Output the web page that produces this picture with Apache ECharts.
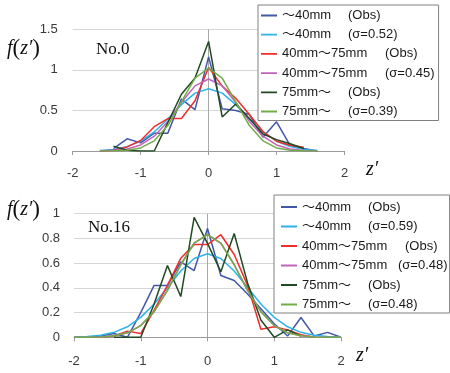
<!DOCTYPE html>
<html><head><meta charset="utf-8">
<script src="https://cdn.jsdelivr.net/npm/echarts@6/dist/echarts.min.js"></script>
<style>html,body{margin:0;padding:0;background:#fff}#c{width:450px;height:373px}</style>
</head><body><div id="c"></div>
<script>
// ---- data ----
const xTop = [-1.6,-1.4,-1.2,-1.0,-0.8,-0.6,-0.4,-0.2,0,0.2,0.4,0.6,0.8,1.0,1.2,1.4,1.6];
const topObs40   = [null,0.03,0.15,0.10,0.22,0.22,0.64,0.51,1.16,0.52,0.50,0.45,0.17,0.36,0.07,0.03,0.0];
const topFit40   = [0.007,0.020,0.054,0.121,0.235,0.394,0.571,0.713,0.767,0.713,0.571,0.394,0.235,0.121,0.054,0.020,0.007];
const topObs4075 = [0.0,0.01,0.05,0.13,0.30,0.40,0.40,0.62,1.03,0.80,0.65,0.45,0.24,0.12,0.07,0.045,null];
const topFit4075 = [0.002,0.007,0.025,0.075,0.183,0.365,0.597,0.803,0.887,0.803,0.597,0.365,0.183,0.075,0.025,0.007,0.002];
const topObs75   = [null,0.06,0.01,0.0,0.0,0.35,0.70,0.90,1.35,0.42,0.58,0.40,0.21,0.14,0.09,0.03,null];
const topFit75   = [0.0,0.002,0.009,0.038,0.125,0.313,0.605,0.897,1.023,0.897,0.605,0.313,0.125,0.038,0.009,0.002,0.0];

const xBot = [-2.0,-1.8,-1.6,-1.4,-1.2,-1.0,-0.8,-0.6,-0.4,-0.2,0,0.2,0.4,0.6,0.8,1.0,1.2,1.4,1.6,1.8,2.0];
const botObs40   = [0,0,0.01,0.03,0.0,0.20,0.42,0.42,0.61,0.54,0.88,0.50,0.46,0.35,0.23,0.11,0.01,0.16,0.01,0.04,0.0];
const botFit40   = [0.002,0.006,0.017,0.040,0.085,0.161,0.270,0.403,0.537,0.638,0.676,0.638,0.537,0.403,0.270,0.161,0.085,0.040,0.017,0.006,0.002];
const botObs4075 = [null,null,0.0,0.01,0.05,0.03,0.22,0.42,0.64,0.75,0.75,0.83,0.67,0.42,0.065,0.085,0.06,0.02,0.0,null,null];
const botFit4075 = [0,0.001,0.003,0.012,0.036,0.095,0.207,0.380,0.587,0.762,0.831,0.762,0.587,0.380,0.207,0.095,0.036,0.012,0.003,0.001,0];
const botObs75   = [null,null,null,0,0,0,0.27,0.58,0.33,0.97,0.76,0.53,0.84,0.44,0.14,0.0,0.06,0.01,null,null,null];
const botFit75   = [0,0.001,0.003,0.012,0.036,0.095,0.207,0.380,0.587,0.762,0.831,0.762,0.587,0.380,0.207,0.095,0.036,0.012,0.003,0.001,0];

const legendNames = ['〜40mm','〜40mm','40mm〜75mm','40mm〜75mm','75mm〜','75mm〜'];
const topTags = ['(Obs)','(σ=0.52)','(Obs)','(σ=0.45)','(Obs)','(σ=0.39)'];
const botTags = ['(Obs)','(σ=0.59)','(Obs)','(σ=0.48)','(Obs)','(σ=0.48)'];
const colors = ['#4257a8','#2fb2ea','#ef2d2d','#c262bd','#214a22','#72ac44'];

// ---- build ----
const topSets = [topObs40, topFit40, topObs4075, topFit4075, topObs75, topFit75];
const botSets = [botObs40, botFit40, botObs4075, botFit4075, botObs75, botFit75];
const pairs = (xs, ys) => xs.map((x,i)=>[x, ys[i]]);

const LF = "'Liberation Sans','Noto Sans CJK JP',sans-serif";
const SERIF = "'Liberation Serif','DejaVu Serif',serif";
const LINE_ICON = 'path://M0,0h0.01v0.01h-0.01zM0,6.1h16v1.8h-16zM15.99,13.99h0.01v0.01h-0.01z';
const series = [];
function addSeries(prefix, sets, xs, idx){
  sets.forEach((ys,i)=>{
    const s = {name:prefix+i, type:'line', xAxisIndex:idx, yAxisIndex:idx, data:pairs(xs, ys),
      symbol:'none', lineStyle:{width:1.5,color:colors[i]}, itemStyle:{color:colors[i]}, connectNulls:false};
    if(i===0) s.markLine = {silent:true, z:1, symbol:'none', label:{show:false},
      lineStyle:{color:'#a8a8a8',width:1,type:'solid'}, data:[{xAxis:0}]};
    series.push(s);
  });
}
addSeries('t', topSets, xTop, 0);
addSeries('b', botSets, xBot, 1);

function xAx(gi){
  return {type:'value', gridIndex:gi, min:-2, max:2, interval:1,
    axisLine:{onZero:false, lineStyle:{color:'#9a9a9a',width:1}},
    axisTick:{show:true, length:4, lineStyle:{color:'#9a9a9a'}},
    axisLabel:{color:'#3a3a3a', fontSize:13, fontFamily:LF, margin: gi===0?16:18},
    splitLine:{show:false}};
}
function yAx(gi, max, interval){
  return {type:'value', gridIndex:gi, min:0, max:max, interval:interval,
    axisLine:{show:false, onZero:false}, axisTick:{show:false},
    axisLabel:{color:'#3a3a3a', fontSize:13, fontFamily:LF, margin: gi===0?15:14},
    splitLine:{show:true, lineStyle:{color:'#d6d6d6',width:1}}};
}

function legendFmt(tags, wide){
  return function(name){
    const i = +name.slice(1);
    return '{'+wide[i]+'|'+legendNames[i]+'}{d|'+tags[i]+'}';
  };
}
const richBase = (dw)=>({
  a:{width:66, fontSize:13, fontFamily:LF, color:'#1a1a1a', lineHeight:14},
  b:{width:103, fontSize:13, fontFamily:LF, color:'#1a1a1a', lineHeight:14},
  c:{width:96, fontSize:13, fontFamily:LF, color:'#1a1a1a', lineHeight:14},
  d:{width:dw, fontSize:13, fontFamily:LF, color:'#1a1a1a', lineHeight:14}
});
function legendData(prefix){
  return [0,1,2,3,4,5].map(i=>({name:prefix+i, icon:LINE_ICON, itemStyle:{color:colors[i]}}));
}

const option = {
  animation:false,
  backgroundColor:'#ffffff',
  grid:[
    {left:72.7, right:105.5, top:29.3, height:121.7},
    {left:74, right:109, top:213.7, height:123.6}
  ],
  xAxis:[xAx(0), xAx(1)],
  yAxis:[yAx(0,1.5,0.5), yAx(1,1,0.2)],
  legend:[
    {data:legendData('t'), orient:'vertical', left:258, top:5,
     padding:[3.5,4,2,3], itemWidth:16, itemHeight:14, itemGap:5.2,
     backgroundColor:'#ffffff', borderColor:'#808080', borderWidth:1, borderRadius:0,
     selectedMode:false, symbolKeepAspect:false,
     formatter:legendFmt(topTags,['a','a','b','b','a','a']),
     textStyle:{fontSize:13, fontFamily:LF, color:'#1a1a1a', lineHeight:14, rich:richBase(48)}},
    {data:legendData('b'), orient:'vertical', left:274, top:195,
     padding:[5,2,1.5,7], itemWidth:16, itemHeight:14, itemGap:5.5,
     backgroundColor:'#ffffff', borderColor:'#808080', borderWidth:1, borderRadius:0,
     selectedMode:false, symbolKeepAspect:false,
     formatter:legendFmt(botTags,['a','a','b','c','a','a']),
     textStyle:{fontSize:13, fontFamily:LF, color:'#1a1a1a', lineHeight:14, rich:richBase(42)}}
  ],
  graphic:[
    {type:'text', left:7, top:37, style:{text:'{i|f}{p|(}{i|z′}{p|)}', rich:{
      i:{fontFamily:SERIF, fontStyle:'italic', fontSize:20, fill:'#111'},
      p:{fontFamily:SERIF, fontSize:23, fill:'#111'}}}},
    {type:'text', left:96, top:41, style:{text:'No.0', font:'17px '+SERIF, fill:'#111'}},
    {type:'text', left:366, top:160, style:{text:'z′', font:'italic 20px '+SERIF, fill:'#111'}},
    {type:'text', left:7, top:198, style:{text:'{i|f}{p|(}{i|z′}{p|)}', rich:{
      i:{fontFamily:SERIF, fontStyle:'italic', fontSize:20, fill:'#111'},
      p:{fontFamily:SERIF, fontSize:23, fill:'#111'}}}},
    {type:'text', left:88, top:219, style:{text:'No.16', font:'17px '+SERIF, fill:'#111'}},
    {type:'text', left:356, top:346, style:{text:'z′', font:'italic 20px '+SERIF, fill:'#111'}}
  ],
  series:series
};
const chart = echarts.init(document.getElementById('c'), null, {renderer:'canvas'});
chart.setOption(option);
</script>
</body></html>
